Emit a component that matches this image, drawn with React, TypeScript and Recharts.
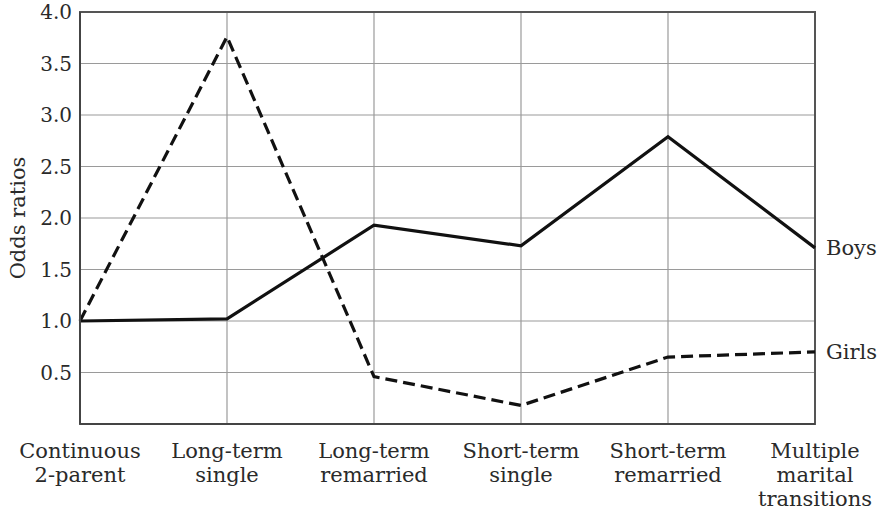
import { CartesianGrid, LabelList, Line, LineChart, ReferenceArea, XAxis, YAxis } from "recharts";

const categories = [
  "Continuous\n2-parent",
  "Long-term\nsingle",
  "Long-term\nremarried",
  "Short-term\nsingle",
  "Short-term\nremarried",
  "Multiple\nmarital\ntransitions"
];
const boys = [1.0, 1.02, 1.93, 1.73, 2.79, 1.71];
const girls = [1.0, 3.76, 0.46, 0.18, 0.65, 0.7];
const yTicks = [0.5, 1.0, 1.5, 2.0, 2.5, 3.0, 3.5, 4.0];

const data = categories.map((name, i) => ({ name, boys: boys[i], girls: girls[i] }));

const FONT = "'DejaVu Serif', serif";
const TEXT = "#2a2a2a";

function CategoryTick({ x, y, payload }: any) {
  const lines = String(payload.value).split("\n");
  return (
    <text x={x} y={y + 26} textAnchor="middle" fill={TEXT} fontFamily={FONT} fontSize={21}>
      {lines.map((line, i) => (
        <tspan key={i} x={x} dy={i === 0 ? 0 : 24}>
          {line}
        </tspan>
      ))}
    </text>
  );
}

function endLabel(text: string) {
  return ({ x, y, index }: any) =>
    index === categories.length - 1 ? (
      <text x={x + 11} y={y} dominantBaseline="central" fill={TEXT} fontFamily={FONT} fontSize={21}>
        {text}
      </text>
    ) : null;
}

export default function App() {
  return (
    <div style={{ position: "absolute", left: 0, top: 0, background: "#fff" }}>
      <LineChart width={880} height={511} data={data} margin={{ top: 12, right: 65, left: 0, bottom: 0 }}>
        <CartesianGrid stroke="#9a9a9a" strokeWidth={1.2} />
        <XAxis
          dataKey="name"
          height={87}
          axisLine={{ stroke: "#444", strokeWidth: 2 }}
          tickLine={false}
          tick={<CategoryTick />}
          interval={0}
        />
        <YAxis
          width={80}
          domain={[0, 4]}
          ticks={yTicks}
          tickFormatter={(v: number) => v.toFixed(1)}
          axisLine={{ stroke: "#444", strokeWidth: 2 }}
          tickLine={false}
          tick={{ fill: TEXT, fontFamily: FONT, fontSize: 20 }}
          label={{
            value: "Odds ratios",
            angle: -90,
            position: "insideLeft",
            offset: 18,
            style: { fill: TEXT, fontFamily: FONT, fontSize: 21, textAnchor: "middle" }
          }}
        />
        <ReferenceArea
          x1={categories[0]}
          x2={categories[categories.length - 1]}
          y1={0}
          y2={4}
          fill="none"
          stroke="#555"
          strokeWidth={2}
        />
        <Line
          type="linear"
          dataKey="boys"
          stroke="#111"
          strokeWidth={3.2}
          dot={false}
          isAnimationActive={false}
        >
          <LabelList dataKey="boys" content={endLabel("Boys")} />
        </Line>
        <Line
          type="linear"
          dataKey="girls"
          stroke="#111"
          strokeWidth={3.2}
          strokeDasharray="12 6"
          dot={false}
          isAnimationActive={false}
        >
          <LabelList dataKey="girls" content={endLabel("Girls")} />
        </Line>
      </LineChart>
    </div>
  );
}
